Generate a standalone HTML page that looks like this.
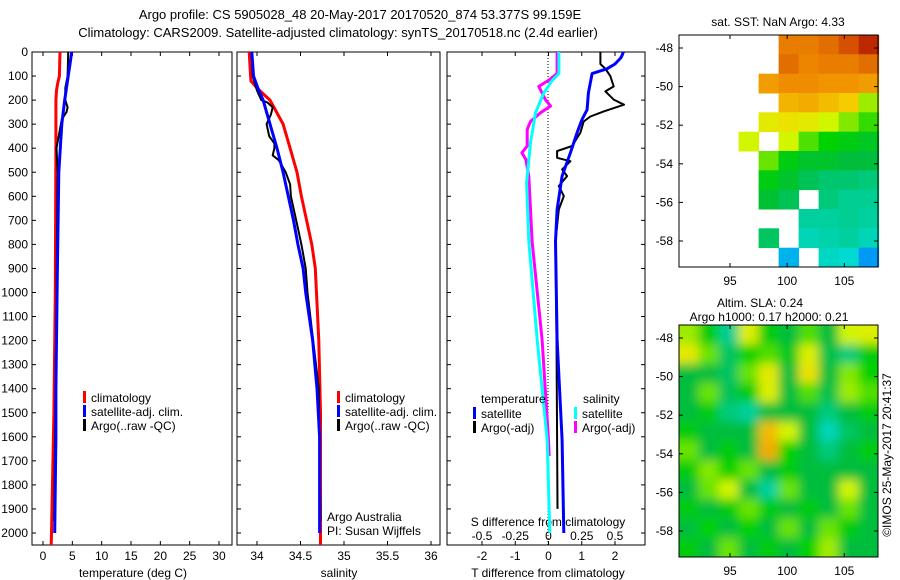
<!DOCTYPE html>
<html><head><meta charset="utf-8"><style>
html,body{margin:0;padding:0;background:#fff;}
svg{display:block;font-family:"Liberation Sans",sans-serif;}
text{font-size:12px;fill:#000;}
</style></head><body>
<svg id="s" width="900" height="580" viewBox="0 0 900 580">
<defs><filter id="blur" x="0" y="0" width="1" height="1"><feGaussianBlur stdDeviation="5"/></filter>
<clipPath id="c2"><rect x="679" y="325" width="199" height="232"/></clipPath></defs>
<text x="360" y="19" text-anchor="middle" style="font-size:13px">Argo profile: CS 5905028_48 20-May-2017 20170520_874 53.377S 99.159E</text>
<text x="338" y="37" text-anchor="middle" style="font-size:13px">Climatology: CARS2009. Satellite-adjusted climatology: synTS_20170518.nc (2.4d earlier)</text>
</svg>
<script>
// ---- profile data ----
const tClimDepth=[0,100,130,160,200,400,1000,1500,2000,2050];
const tClimVal=[2.9,2.8,2.5,2.3,2.2,2.2,2.1,1.85,1.45,1.4];
const tSatDepth=[0,50,100,200,300,500,900,1400,1600,2000];
const tSatVal=[4.9,4.6,4.3,3.7,3.2,2.7,2.45,2.2,2.2,2.0];
const tArgoDepth=[0,100,150,200,230,250,280,400,450,500,700,1000,1500,1950];
const tArgoVal=[4.3,4.2,3.8,3.8,4.2,4.0,3.2,2.3,2.4,2.5,2.4,2.3,2.1,1.9];
const sClimDepth=[0,120,150,200,300,400,500,600,700,800,900,1200,1500,2050];
const sClimVal=[33.91,33.93,34.0,34.15,34.3,34.38,34.46,34.51,34.57,34.63,34.67,34.71,34.73,34.73];
const sSatDepth=[0,100,150,200,300,400,500,600,700,800,900,1000,1200,1400,1600,2000];
const sSatVal=[33.94,33.96,34.01,34.07,34.15,34.23,34.30,34.36,34.42,34.47,34.53,34.56,34.64,34.69,34.72,34.72];
const sArgoDepth=[0,100,160,200,210,230,260,300,350,380,400,430,450,500,550,600,700,800,900,1000,1400,1950];
const sArgoVal=[33.94,33.95,34.0,34.05,34.12,34.18,34.16,34.11,34.14,34.2,34.2,34.18,34.25,34.33,34.38,34.39,34.45,34.51,34.56,34.58,34.71,34.73];
const dtSatDepth=[0,12,25,50,70,90,170,240,280,335,419,516,655,787,1197,1613,2000];
const dtSatVal=[2.25,2.22,2.17,2.0,1.76,1.31,1.2,1.16,1.01,0.86,0.66,0.41,0.26,0.21,0.26,0.41,0.46];
const dtArgoDepth=[0,50,70,100,143,164,198,219,247,268,289,335,391,412,440,454,488,516,557,599,655,787,1197,1613,1900];
const dtArgoVal=[1.56,1.56,1.71,1.86,1.96,1.71,1.96,2.27,1.66,1.26,1.06,0.96,0.71,0.26,0.26,0.66,0.41,0.56,0.31,0.46,0.31,0.21,0.24,0.26,0.27];
const dsSatDepth=[0,90,118,170,253,378,544,787,1197,1613,2000];
const dsSatVal=[0.078,0.078,0.028,-0.035,-0.098,-0.135,-0.165,-0.148,-0.085,-0.01,0.01];
const dsArgoDepth=[0,90,118,143,198,225,253,289,322,391,419,447,516,655,787,1197,1613,1680];
const dsArgoVal=[0.065,0.065,0.0,-0.073,-0.023,0.015,-0.06,-0.135,-0.16,-0.16,-0.2,-0.17,-0.148,-0.135,-0.123,-0.048,0.0,0.005];
const depthTicks=[0,100,200,300,400,500,600,700,800,900,1000,1100,1200,1300,1400,1500,1600,1700,1800,1900,2000];
const tTicks=[0,5,10,15,20,25,30];
const sTicks=[34,34.5,35,35.5,36];
const dtTicks=[-2,-1,0,1,2];
const dsTicks=[-0.5,-0.25,0,0.25,0.5];
// ---- map data (colour index 0..1, null = no data) ----
const sstLonEdges=[90.5,92.25,94,95.75,97.5,99.25,101,102.75,104.5,106.25,108];
const sstGrid=[
[null,null,null,null,null,0.8,0.8,0.82,0.86,0.92],
[null,null,null,null,null,0.82,0.79,0.8,0.8,0.82],
[null,null,null,null,0.76,0.78,0.78,0.77,0.77,0.76],
[null,null,null,null,null,0.73,0.74,0.72,0.7,0.58],
[null,null,null,null,0.64,0.66,0.64,0.6,0.57,0.54],
[null,null,null,0.6,null,0.6,0.55,0.52,0.5,0.48],
[null,null,null,null,0.56,0.5,0.47,0.47,0.45,0.45],
[null,null,null,null,0.5,0.47,0.43,0.41,0.41,0.4],
[null,null,null,null,0.46,0.43,null,0.4,0.38,0.38],
[null,null,null,null,null,null,0.37,0.37,0.38,0.37],
[null,null,null,null,0.42,null,0.35,0.36,0.37,0.35],
[null,null,null,null,null,0.27,null,0.34,0.33,0.24]];
const slaGrid=[
[0.58,0.5,0.38,0.62,0.5,0.45,0.55,0.45,0.6,0.62],
[0.64,0.56,0.42,0.52,0.55,0.48,0.62,0.44,0.4,0.5],
[0.45,0.45,0.42,0.56,0.64,0.45,0.66,0.45,0.57,0.52],
[0.45,0.56,0.43,0.5,0.62,0.45,0.55,0.44,0.58,0.55],
[0.45,0.5,0.4,0.37,0.45,0.45,0.45,0.4,0.45,0.5],
[0.5,0.45,0.45,0.45,0.72,0.6,0.45,0.35,0.42,0.45],
[0.56,0.45,0.5,0.45,0.74,0.52,0.45,0.4,0.45,0.5],
[0.5,0.57,0.52,0.56,0.45,0.5,0.45,0.45,0.45,0.45],
[0.45,0.56,0.6,0.45,0.37,0.56,0.45,0.45,0.6,0.45],
[0.5,0.45,0.5,0.56,0.5,0.45,0.5,0.45,0.56,0.45],
[0.45,0.52,0.45,0.52,0.45,0.56,0.45,0.56,0.5,0.45],
[0.5,0.45,0.56,0.45,0.5,0.45,0.52,0.58,0.45,0.45]];
const lonTicks=[95,100,105];
const latTicks=[-48,-50,-52,-54,-56,-58];

const S=document.getElementById('s');const NS='http://www.w3.org/2000/svg';
function mk(tag,at,parent){const e=document.createElementNS(NS,tag);for(const k in at)e.setAttribute(k,at[k]);(parent||S).appendChild(e);return e;}
function txt(x,y,s,anchor,size){const t=mk('text',{x:x,y:y,'text-anchor':anchor||'start'});if(size)t.style.fontSize=size+'px';t.textContent=s;return t;}
const pTop=52,bot=545;
const yD=d=>pTop+d*0.2405;
function lin(d0,d1,r0,r1){return v=>r0+(v-d0)*(r1-r0)/(d1-d0);}
const panels=[{x0:32,x1:232,f:lin(0,30,43,219)},{x0:237,x1:440,f:lin(34,36,257,431)},{x0:447,x1:645,f:lin(-2,2,482,615)}];
const fS=lin(-0.5,0.5,482,615);
function frame(p,name){
 const r=mk('rect',{x:p.x0,y:pTop,width:p.x1-p.x0,height:bot-pTop,fill:'none',stroke:'#000','stroke-width':1});
 
 
}
frame(panels[0],'temperature-axes');frame(panels[1],'salinity-axes');frame(panels[2],'difference-axes');
depthTicks.forEach(d=>{
 const y=yD(d);
 panels.forEach(p=>{mk('line',{x1:p.x0,x2:p.x0+4,y1:y,y2:y,stroke:'#000'});});
 mk('line',{x1:645,x2:641,y1:y,y2:y,stroke:'#000'});
 const t=txt(28,y+4,String(d),'end');
 
 
});
function xticks(p,ticks,f,y){
 ticks.forEach(v=>{const x=f(v);mk('line',{x1:x,x2:x,y1:bot,y2:bot-4,stroke:'#000'});mk('line',{x1:x,x2:x,y1:pTop,y2:pTop+4,stroke:'#000'});
 const t=txt(x,y,String(v),'middle');
 
 });
}
xticks(panels[0],tTicks,panels[0].f,560);
xticks(panels[1],sTicks,panels[1].f,560);
xticks(panels[2],dtTicks,panels[2].f,560);
dsTicks.forEach(v=>{const t=txt(fS(v),540,String(v),'middle');
 
 });
let t;
t=txt(133,577,'temperature (deg C)','middle');
t=txt(339,577,'salinity','middle');
t=txt(548,577,'T difference from climatology','middle');
t=txt(548,526,'S difference from climatology','middle');
const zl=mk('line',{x1:548,x2:548,y1:pTop,y2:bot,stroke:'#000','stroke-dasharray':'1,2'});

function series(depths,vals,f,color,w,name){
 const pts=depths.map((d,i)=>f(vals[i]).toFixed(1)+','+yD(d).toFixed(1)).join(' ');
 const pl=mk('polyline',{points:pts,fill:'none',stroke:color,'stroke-width':w,'stroke-linejoin':'round'});
 
 
}
series(tClimDepth,tClimVal,panels[0].f,'#f00',3,'temp-climatology-line');
series(tArgoDepth,tArgoVal,panels[0].f,'#000',2,'temp-argo-line');
series(tSatDepth,tSatVal,panels[0].f,'#00f',3,'temp-satellite-line');
series(sClimDepth,sClimVal,panels[1].f,'#f00',3,'sal-climatology-line');
series(sArgoDepth,sArgoVal,panels[1].f,'#000',2,'sal-argo-line');
series(sSatDepth,sSatVal,panels[1].f,'#00f',3,'sal-satellite-line');
series(dsArgoDepth,dsArgoVal,fS,'#f0f',3,'sdiff-argo-line');
series(dsSatDepth,dsSatVal,fS,'#0ff',3,'sdiff-satellite-line');
series(dtArgoDepth,dtArgoVal,panels[2].f,'#000',2,'tdiff-argo-line');
series(dtSatDepth,dtSatVal,panels[2].f,'#00f',3,'tdiff-satellite-line');
function legend(x,y,color,label){
 const g=mk('g',{});
 
 
 mk('rect',{x:x,y:y-9,width:3,height:12,fill:color},g);
 const tt=mk('text',{x:x+8,y:y+2},g);tt.textContent=label;
}
legend(83,400,'#f00','climatology');legend(83,414,'#00f','satellite-adj. clim.');legend(83,428,'#000','Argo(..raw -QC)');
legend(337,400,'#f00','climatology');legend(337,414,'#00f','satellite-adj. clim.');legend(337,428,'#000','Argo(..raw -QC)');
t=txt(481,403,'temperature');
t=txt(583,403,'salinity');
legend(473,416,'#00f','satellite');legend(473,430,'#000','Argo(-adj)');
legend(574,416,'#0ff','satellite');legend(574,430,'#f0f','Argo(-adj)');
t=txt(327,521,'Argo Australia');
t=txt(327,535,'PI: Susan Wijffels');
function cmap(v){
 const st=[[0,[0,0,170]],[0.2,[0,120,255]],[0.32,[0,220,220]],[0.45,[0,190,60]],[0.52,[0,210,0]],[0.6,[210,245,0]],[0.68,[245,220,0]],[0.78,[240,140,0]],[0.9,[200,50,0]],[1,[150,0,0]]];
 for(let i=1;i<st.length;i++){if(v<=st[i][0]){const a=st[i-1],b=st[i];const u=(v-a[0])/(b[0]-a[0]);return 'rgb('+a[1].map((c,k)=>Math.round(c+(b[1][k]-c)*u)).join(',')+')';}}
 return 'rgb(150,0,0)';
}
const mx=lin(95,105,730,844.3);
const my=lin(-48,-58,48,241);
function mapAxes(y0,y1,name){
 const r=mk('rect',{x:679,y:y0,width:199,height:y1-y0,fill:'none',stroke:'#000'});
 
 lonTicks.forEach(v=>{const x=mx(v);mk('line',{x1:x,x2:x,y1:y1,y2:y1-4,stroke:'#000'});mk('line',{x1:x,x2:x,y1:y0,y2:y0+4,stroke:'#000'});
  const tt=txt(x,y1+18,String(v),'middle');});
 latTicks.forEach(v=>{const y=my(v)+(y0-35);mk('line',{x1:679,x2:683,y1:y,y2:y,stroke:'#000'});mk('line',{x1:878,x2:874,y1:y,y2:y,stroke:'#000'});
  const tt=txt(673,y+4,String(v),'end');});
}
const rowH=(267-35)/sstGrid.length;
sstGrid.forEach((row,r)=>row.forEach((v,c)=>{
 if(v===null)return;
 const x0=mx(sstLonEdges[c]),x1=mx(sstLonEdges[c+1]);
 const cell=mk('rect',{x:x0.toFixed(1),y:(35+r*rowH).toFixed(1),width:(x1-x0+0.5).toFixed(1),height:(rowH+0.5).toFixed(1),fill:cmap(v)});
 
 
}));
mapAxes(35,267,'sst-map-axes');
t=txt(778,26,'sat. SST: NaN Argo: 4.33','middle');
const gSla=mk('g',{'clip-path':'url(#c2)'});
const gIn=mk('g',{filter:'url(#blur)'},gSla);
const slaRowH=(557-325)/slaGrid.length;
slaGrid.forEach((row,r)=>row.forEach((v,c)=>{
 const x0=mx(sstLonEdges[c]),x1=mx(sstLonEdges[c+1]);
 const cell=mk('rect',{x:(x0-(c===0?12:0)).toFixed(1),y:(325+r*slaRowH-(r===0?12:0)).toFixed(1),width:(x1-x0+0.5+(c===0||c===9?12:0)).toFixed(1),height:(slaRowH+0.5+(r===0||r===11?12:0)).toFixed(1),fill:cmap(v)},gIn);
 
 
}));
mapAxes(325,557,'sla-map-axes');
t=txt(760,307,'Altim. SLA: 0.24','middle');
t=txt(769,321,'Argo h1000: 0.17 h2000: 0.21','middle');
t=txt(0,0,'\u00a9IMOS 25-May-2017 20:41:37','middle');t.setAttribute('transform','translate(891,455) rotate(-90)');

</script>
</body></html>
